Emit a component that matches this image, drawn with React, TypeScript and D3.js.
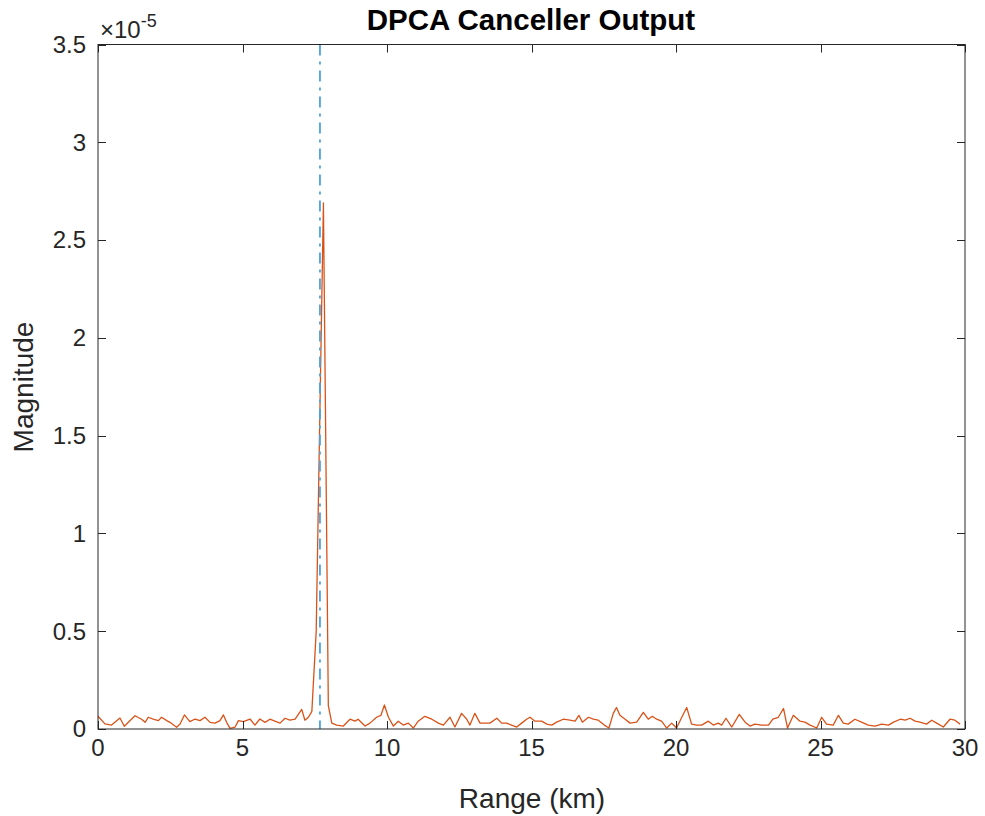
import React, { useEffect, useRef } from "react";
import * as d3 from "d3";

// Range (km) and magnitude (x1e-5)
const rangeKm = [
  0.0, 0.24, 0.47, 0.76, 0.91, 1.28, 1.51, 1.63, 1.74, 1.91, 2.09, 2.2, 2.38, 2.49, 2.72, 2.84, 2.99,
  3.18, 3.36, 3.53, 3.7, 3.88, 4.05, 4.22, 4.34, 4.45, 4.57, 4.74, 4.86, 5.03, 5.26, 5.43, 5.6, 5.78,
  5.95, 6.12, 6.3, 6.47, 6.64, 6.82, 7.05, 7.16, 7.28, 7.4, 7.55, 7.8, 7.97, 8.09, 8.26, 8.49, 8.72,
  8.89, 9.0, 9.24, 9.41, 9.64, 9.79, 9.91, 10.05, 10.22, 10.39, 10.56, 10.74, 10.91, 11.08, 11.31,
  11.55, 11.78, 11.95, 12.18, 12.35, 12.58, 12.76, 12.87, 13.04, 13.22, 13.39, 13.56, 13.8, 13.97,
  14.14, 14.31, 14.49, 14.66, 14.83, 14.95, 15.12, 15.35, 15.53, 15.7, 15.87, 16.1, 16.33, 16.51,
  16.64, 16.76, 16.97, 17.14, 17.31, 17.52, 17.68, 17.83, 17.94, 18.06, 18.24, 18.41, 18.64, 18.87,
  19.04, 19.18, 19.33, 19.5, 19.68, 19.85, 20.02, 20.2, 20.37, 20.54, 20.72, 20.89, 21.12, 21.29,
  21.46, 21.58, 21.73, 21.93, 22.19, 22.39, 22.56, 22.73, 22.97, 23.2, 23.35, 23.54, 23.72, 23.86,
  24.06, 24.29, 24.46, 24.64, 24.87, 25.04, 25.21, 25.44, 25.62, 25.79, 25.96, 26.19, 26.42, 26.65,
  26.89, 27.12, 27.35, 27.53, 27.76, 27.93, 28.1, 28.27, 28.44, 28.67, 28.85, 29.02, 29.25, 29.48,
  29.65, 29.83,
];
const magnitude = [
  0.065, 0.026, 0.02, 0.056, 0.014, 0.068, 0.05, 0.034, 0.06, 0.05, 0.043, 0.06, 0.043, 0.034, 0.009,
  0.026, 0.072, 0.038, 0.051, 0.043, 0.06, 0.034, 0.03, 0.043, 0.072, 0.034, 0.003, 0.009, 0.043,
  0.038, 0.051, 0.02, 0.051, 0.034, 0.05, 0.04, 0.03, 0.055, 0.045, 0.05, 0.1, 0.045, 0.06, 0.09,
  0.5, 2.69, 0.12, 0.03, 0.02, 0.015, 0.05, 0.04, 0.05, 0.015, 0.03, 0.06, 0.07, 0.123, 0.06, 0.015,
  0.04, 0.02, 0.03, 0.005, 0.04, 0.065, 0.05, 0.03, 0.02, 0.06, 0.01, 0.08, 0.05, 0.02, 0.08, 0.03,
  0.03, 0.03, 0.055, 0.03, 0.03, 0.02, 0.01, 0.03, 0.05, 0.06, 0.04, 0.04, 0.025, 0.02, 0.035, 0.05,
  0.045, 0.04, 0.07, 0.035, 0.06, 0.05, 0.045, 0.02, 0.005, 0.08, 0.11, 0.07, 0.05, 0.03, 0.035,
  0.085, 0.05, 0.065, 0.05, 0.04, 0.005, 0.03, 0.005, 0.06, 0.11, 0.025, 0.02, 0.02, 0.04, 0.02,
  0.03, 0.02, 0.055, 0.01, 0.075, 0.035, 0.015, 0.025, 0.02, 0.02, 0.05, 0.06, 0.105, 0.005, 0.07,
  0.04, 0.035, 0.02, 0.005, 0.06, 0.025, 0.02, 0.07, 0.03, 0.025, 0.05, 0.035, 0.02, 0.015, 0.025,
  0.02, 0.035, 0.05, 0.045, 0.055, 0.04, 0.035, 0.025, 0.045, 0.03, 0.01, 0.05, 0.045, 0.025,
];
const targetRangeKm = 7.68;
const xTicks = [0, 5, 10, 15, 20, 25, 30];
const yTicks = [0, 0.5, 1, 1.5, 2, 2.5, 3, 3.5];
const titleText = "DPCA Canceller Output";
const xLabelText = "Range (km)";
const yLabelText = "Magnitude";

const W = 985;
const H = 816;
const M = { left: 98, right: 965, top: 44.5, bottom: 729 };
const FONT = "'Liberation Sans', Arial, Helvetica, sans-serif";
const AX = "#262626";

export default function App() {
  const ref = useRef<SVGSVGElement>(null);
  useEffect(() => {
    const svg = d3.select(ref.current);
    svg.selectAll("*").remove();
    const x = d3.scaleLinear().domain([0, 30]).range([M.left, M.right]);
    const y = d3.scaleLinear().domain([0, 3.5]).range([M.bottom, M.top]);
    const pw = M.right - M.left;
    const ph = M.bottom - M.top;
    const tick = 8;

    svg.append("rect").attr("x", M.left).attr("y", M.top).attr("width", pw).attr("height", ph)
      .attr("fill", "white");

    // data line
    const pts = rangeKm.map((r, i) => [r, magnitude[i]] as [number, number]);
    svg.append("path")
      .datum(pts)
      .attr("fill", "none")
      .attr("stroke", "#D95319")
      .attr("stroke-width", 1.3)
      .attr("stroke-linejoin", "round")
      .attr("d", d3.line<[number, number]>().x((d) => x(d[0])).y((d) => y(d[1])));

    // target marker
    svg.append("line")
      .attr("x1", x(targetRangeKm)).attr("x2", x(targetRangeKm))
      .attr("y1", M.top).attr("y2", M.bottom)
      .attr("stroke", "#4da3de").attr("stroke-width", 1.8)
      .attr("stroke-dasharray", "11,6,3,6");

    const g = svg.append("g").attr("fill", "none").attr("stroke", AX).attr("stroke-width", 1);
    // box
    g.append("rect").attr("x", M.left).attr("y", M.top).attr("width", pw).attr("height", ph);
    // ticks
    xTicks.forEach((t) => {
      const xx = Math.round(x(t)) + 0.5;
      g.append("line").attr("x1", xx).attr("x2", xx).attr("y1", M.bottom).attr("y2", M.bottom - tick);
      g.append("line").attr("x1", xx).attr("x2", xx).attr("y1", M.top).attr("y2", M.top + tick);
    });
    yTicks.forEach((t) => {
      const yy = Math.round(y(t)) + 0.5;
      g.append("line").attr("x1", M.left).attr("x2", M.left + tick).attr("y1", yy).attr("y2", yy);
      g.append("line").attr("x1", M.right).attr("x2", M.right - tick).attr("y1", yy).attr("y2", yy);
    });

    const tg = svg.append("g").attr("font-family", FONT).attr("fill", AX);
    xTicks.forEach((t) => {
      tg.append("text").attr("x", x(t)).attr("y", M.bottom + 27).attr("text-anchor", "middle")
        .attr("font-size", 24).text(String(t));
    });
    yTicks.forEach((t) => {
      tg.append("text").attr("x", M.left - 12).attr("y", y(t)).attr("dy", "0.35em")
        .attr("text-anchor", "end").attr("font-size", 24).text(String(t));
    });
    // exponent
    const ex = tg.append("text").attr("x", M.left + 2).attr("y", M.top - 7).attr("font-size", 24);
    ex.append("tspan").text("\u00d710");
    ex.append("tspan").attr("dy", -11).attr("font-size", 18).text("-5");

    tg.append("text").attr("x", 532).attr("y", 808).attr("text-anchor", "middle")
      .attr("font-size", 28).text(xLabelText);
    tg.append("text").attr("transform", `translate(33,387) rotate(-90)`)
      .attr("text-anchor", "middle").attr("font-size", 28).text(yLabelText);
    tg.append("text").attr("x", 531).attr("y", 30).attr("text-anchor", "middle")
      .attr("font-size", 29.5).attr("font-weight", "bold").attr("fill", "#000").text(titleText);
  }, []);
  return (
    <svg ref={ref} width={W} height={H} style={{ position: "absolute", left: 0, top: 0, background: "white" }} />
  );
}
